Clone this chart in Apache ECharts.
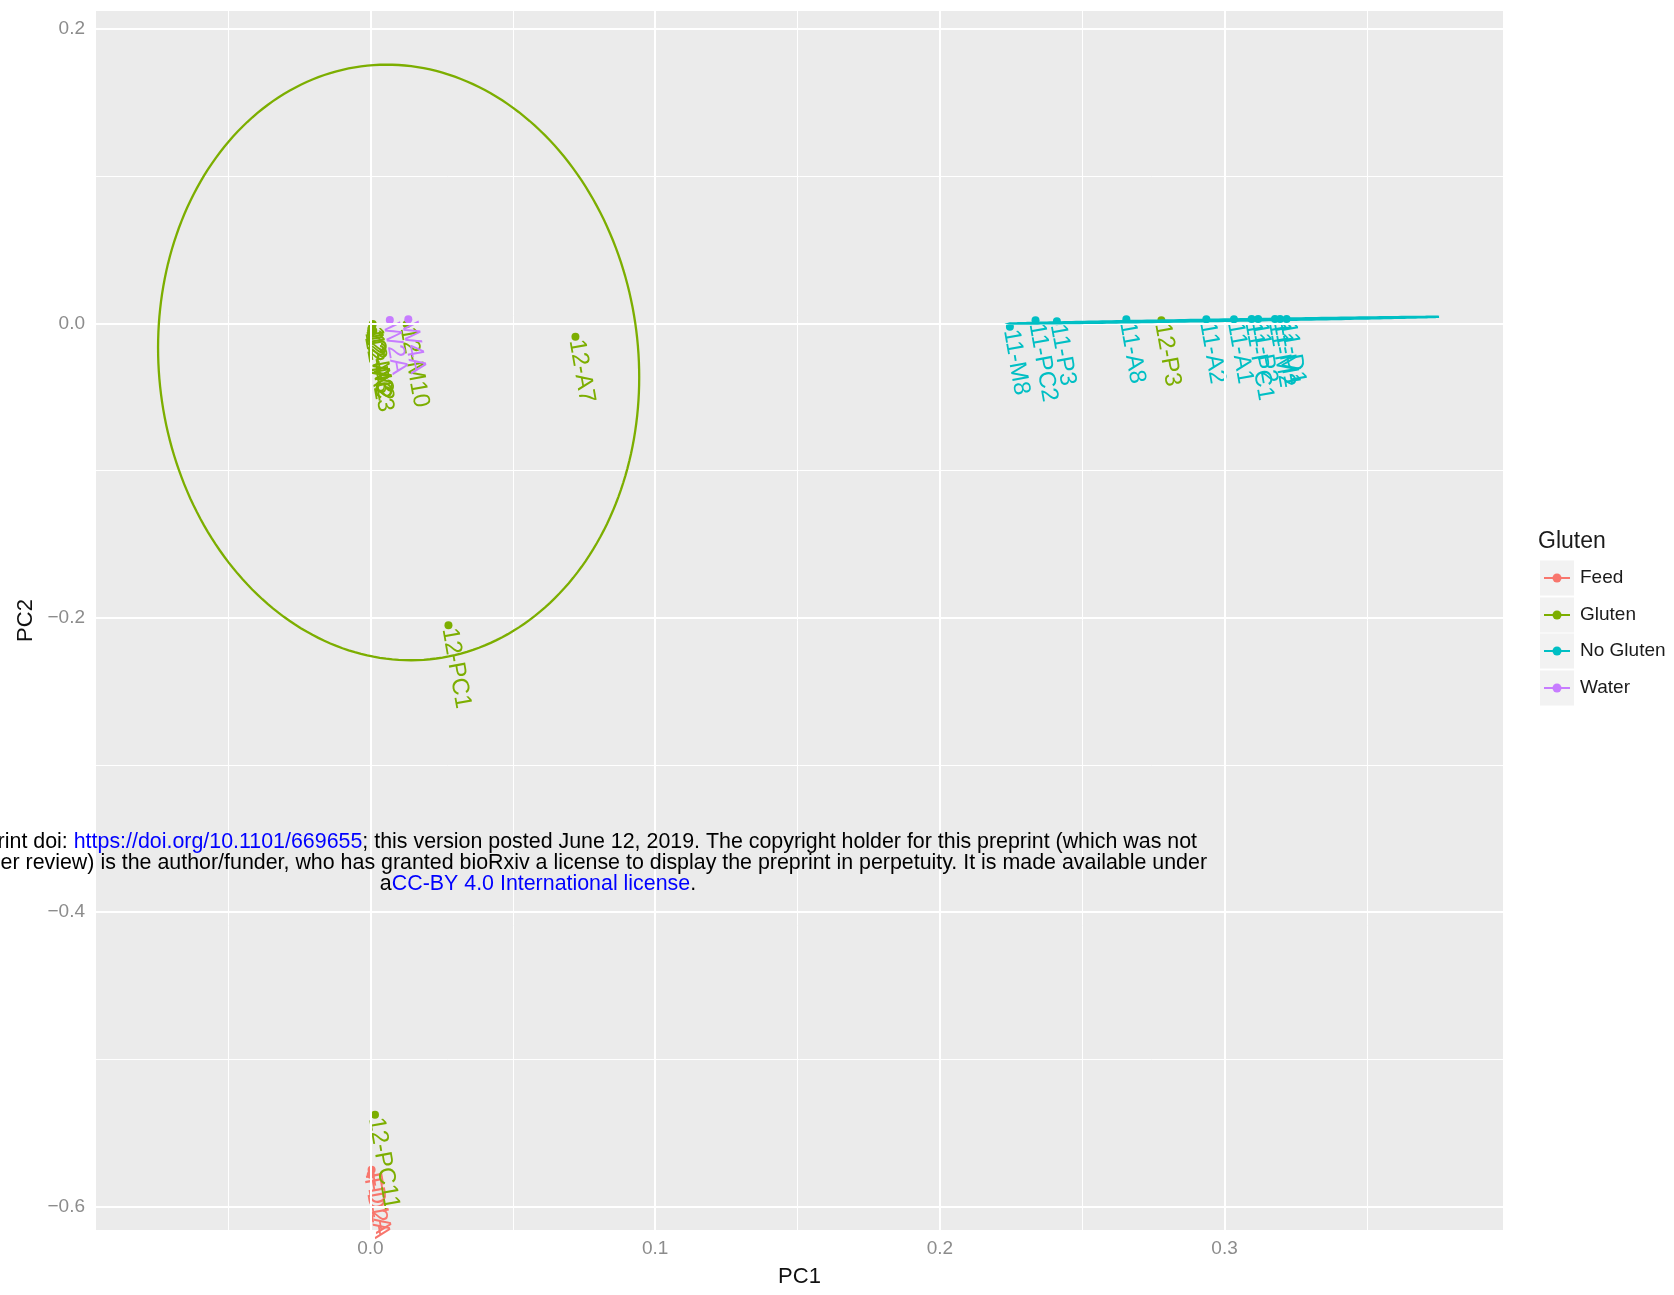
<!DOCTYPE html>
<html><head><meta charset="utf-8">
<script src="https://cdn.jsdelivr.net/npm/echarts@6/dist/echarts.min.js"></script>
<style>html,body{margin:0;padding:0;background:#fff}#c{width:1674px;height:1295px}</style>
</head><body><div id="c"></div>
<script>
const FONT = '"Liberation Sans", Arial, Helvetica, sans-serif';

const groups = ['Feed', 'Gluten', 'No Gluten', 'Water'];
const colors = ['#F8766D', '#7CAE00', '#00BFC4', '#C77CFF'];

const feedNames = ['FD1A', 'FD2A'];
const feedX = [0.0004, 0.0001];
const feedY = [-0.5750, -0.5785];

const glutenNames = ['12-M3', '12-A3', '12-PC3', '12-M2', '12-A2', '12-M10', '12-A7', '12-PC1', '12-P3', '12-PC11'];
const glutenX = [0.0008, 0.0006, 0.0003, 0.0010, 0.0002, 0.0127, 0.0720, 0.0274, 0.2778, 0.0016];
const glutenY = [-0.0003, -0.0020, -0.0036, -0.0050, -0.0066, -0.0005, -0.0090, -0.2050, 0.0022, -0.5377];

const noGlutenNames = ['11-M8', '11-PC2', '11-P3', '11-A8', '11-A2', '11-A1', '11-PC1', '11-P2', '11-M2', '11-M1', '11-D1'];
const noGlutenX = [0.2246, 0.2336, 0.2411, 0.2655, 0.2936, 0.3033, 0.3095, 0.3118, 0.3177, 0.3195, 0.3218];
const noGlutenY = [-0.0022, 0.0022, 0.0015, 0.0029, 0.0029, 0.0029, 0.0030, 0.0030, 0.0031, 0.0031, 0.0031];

const waterNames = ['W2A', 'W4A'];
const waterX = [0.0068, 0.0133];
const waterY = [0.0024, 0.0029];

// stat ellipses: centre and two conjugate semi-axes (data units)
const glutenEllipseCenter = [0.0099, -0.0265];
const glutenEllipseAxisA = [0.0845, -0.0100];
const glutenEllipseAxisB = [0.0, 0.2021];
const noGlutenEllipseCenter = [0.2998, 0.0022];
const noGlutenEllipseAxisA = [0.0755, 0.0023];
const noGlutenEllipseAxisB = [0.0, 0.0005];

const xTicks = [0, 0.1, 0.2, 0.3];
const yTicks = [-0.6, -0.4, -0.2, 0, 0.2];
const xMinorGrid = [-0.05, 0.05, 0.15, 0.25, 0.35];
const yMinorGrid = [-0.5, -0.3, -0.1, 0.1];

const watermarkLines = [
  'rint doi: {b|https://doi.org/10.1101/669655}; this version posted June 12, 2019. The copyright holder for this preprint (which was not',
  'eer review) is the author/funder, who has granted bioRxiv a license to display the preprint in perpetuity. It is made available under',
  'a{b|CC-BY 4.0 International license}.'
];

function scatterSeries(name, color, names, xs, ys) {
  return {
    type: 'scatter', name: name, symbolSize: 8, z: 3,
    itemStyle: { color: color, opacity: 1 },
    data: names.map((n, i) => ({ name: n, value: [xs[i], ys[i]] })),
    label: {
      show: true, formatter: '{b}', position: 'inside', align: 'left', verticalAlign: 'middle',
      rotate: -80, color: color, fontSize: 24, fontFamily: FONT, padding: [0, 0, 0, 3]
    },
    emphasis: { disabled: true }, silent: true
  };
}

function ellipseSeries(name, color, c, a, b) {
  return {
    type: 'custom', name: name, coordinateSystem: 'cartesian2d', data: [c], z: 5, silent: true,
    renderItem: function (params, api) {
      const pts = [];
      for (let i = 0; i <= 240; i++) {
        const t = i / 240 * 2 * Math.PI;
        pts.push(api.coord([c[0] + a[0] * Math.cos(t) + b[0] * Math.sin(t),
                            c[1] + a[1] * Math.cos(t) + b[1] * Math.sin(t)]));
      }
      return { type: 'polyline', shape: { points: pts }, style: { stroke: color, lineWidth: 2.3, fill: null } };
    }
  };
}

const gridLines = [].concat(
  xMinorGrid.map(v => ({ xAxis: v, lineStyle: { width: 1 } })),
  yMinorGrid.map(v => ({ yAxis: v, lineStyle: { width: 1 } })),
  xTicks.map(v => ({ xAxis: v, lineStyle: { width: 2 } })),
  yTicks.map(v => ({ yAxis: v, lineStyle: { width: 2 } }))
);

const fmtY = v => (v < 0 ? '\u2212' : '') + Math.abs(v).toFixed(1);

const graphics = [];
// legend
graphics.push({ type: 'text', x: 1538, y: 542, z: 10,
  style: { text: 'Gluten', font: '23px ' + FONT, fill: '#1a1a1a', align: 'left', verticalAlign: 'middle', textAlign: 'left', textVerticalAlign: 'middle' } });
const keyY = [578, 615, 651, 688];
groups.forEach((g, i) => {
  const cy = keyY[i];
  graphics.push({ type: 'rect', shape: { x: 1540, y: cy - 17.5, width: 34, height: 35 }, style: { fill: '#F2F2F2' }, z: 9 });
  graphics.push({ type: 'line', shape: { x1: 1544, y1: cy, x2: 1570, y2: cy }, style: { stroke: colors[i], lineWidth: 2 }, z: 10 });
  graphics.push({ type: 'circle', shape: { cx: 1557, cy: cy, r: 4.5 }, style: { fill: colors[i] }, z: 10 });
  graphics.push({ type: 'text', x: 1580, y: cy, z: 10,
    style: { text: g, font: '19px ' + FONT, fill: '#1a1a1a', align: 'left', verticalAlign: 'middle', textAlign: 'left', textVerticalAlign: 'middle' } });
});
// watermark
const wmX = [1197, 1207, 538];
const wmY = [842, 863, 884];
const wmAlign = ['right', 'right', 'center'];
watermarkLines.forEach((t, i) => {
  graphics.push({ type: 'text', x: wmX[i], y: wmY[i], z: 20,
    style: { text: t, font: '21.4px ' + FONT, fill: '#000', align: wmAlign[i], verticalAlign: 'middle',
      textAlign: wmAlign[i], textVerticalAlign: 'middle',
      rich: { b: { fill: '#0000FF', font: '21.4px ' + FONT } } } });
});

const chart = echarts.init(document.getElementById('c'), null, { renderer: 'canvas' });
chart.setOption({
  animation: false,
  backgroundColor: '#fff',
  textStyle: { fontFamily: FONT },
  grid: { left: 96, right: 171, top: 11, bottom: 65, show: true, backgroundColor: '#EBEBEB', borderWidth: 0 },
  xAxis: {
    type: 'value', min: -0.0964, max: 0.3978,
    splitLine: { show: false }, axisLine: { show: false },
    axisTick: { show: true, customValues: xTicks, length: 5, lineStyle: { color: '#8c8c8c', width: 1.5 } },
    axisLabel: { customValues: xTicks, formatter: v => v.toFixed(1), color: '#8c8c8c', fontSize: 19, margin: 9, fontFamily: FONT },
    name: 'PC1', nameLocation: 'middle', nameGap: 36,
    nameTextStyle: { fontSize: 22, color: '#111', fontFamily: FONT }
  },
  yAxis: {
    type: 'value', min: -0.616, max: 0.2123,
    splitLine: { show: false }, axisLine: { show: false },
    axisTick: { show: true, customValues: yTicks, length: 5, lineStyle: { color: '#8c8c8c', width: 1.5 } },
    axisLabel: { customValues: yTicks, formatter: fmtY, color: '#8c8c8c', fontSize: 19, margin: 11, fontFamily: FONT },
    name: 'PC2', nameLocation: 'middle', nameGap: 57, nameRotate: 90,
    nameTextStyle: { fontSize: 22, color: '#111', fontFamily: FONT }
  },
  series: [
    { type: 'scatter', name: 'grid', data: [], z: 1, silent: true,
      markLine: { silent: true, symbol: ['none', 'none'], label: { show: false }, animation: false,
        lineStyle: { color: '#ffffff', type: 'solid' }, data: gridLines } },
    scatterSeries(groups[0], colors[0], feedNames, feedX, feedY),
    scatterSeries(groups[1], colors[1], glutenNames, glutenX, glutenY),
    scatterSeries(groups[2], colors[2], noGlutenNames, noGlutenX, noGlutenY),
    scatterSeries(groups[3], colors[3], waterNames, waterX, waterY),
    ellipseSeries('Gluten ellipse', colors[1], glutenEllipseCenter, glutenEllipseAxisA, glutenEllipseAxisB),
    ellipseSeries('No Gluten ellipse', colors[2], noGlutenEllipseCenter, noGlutenEllipseAxisA, noGlutenEllipseAxisB)
  ],
  graphic: graphics
});
</script></body></html>
